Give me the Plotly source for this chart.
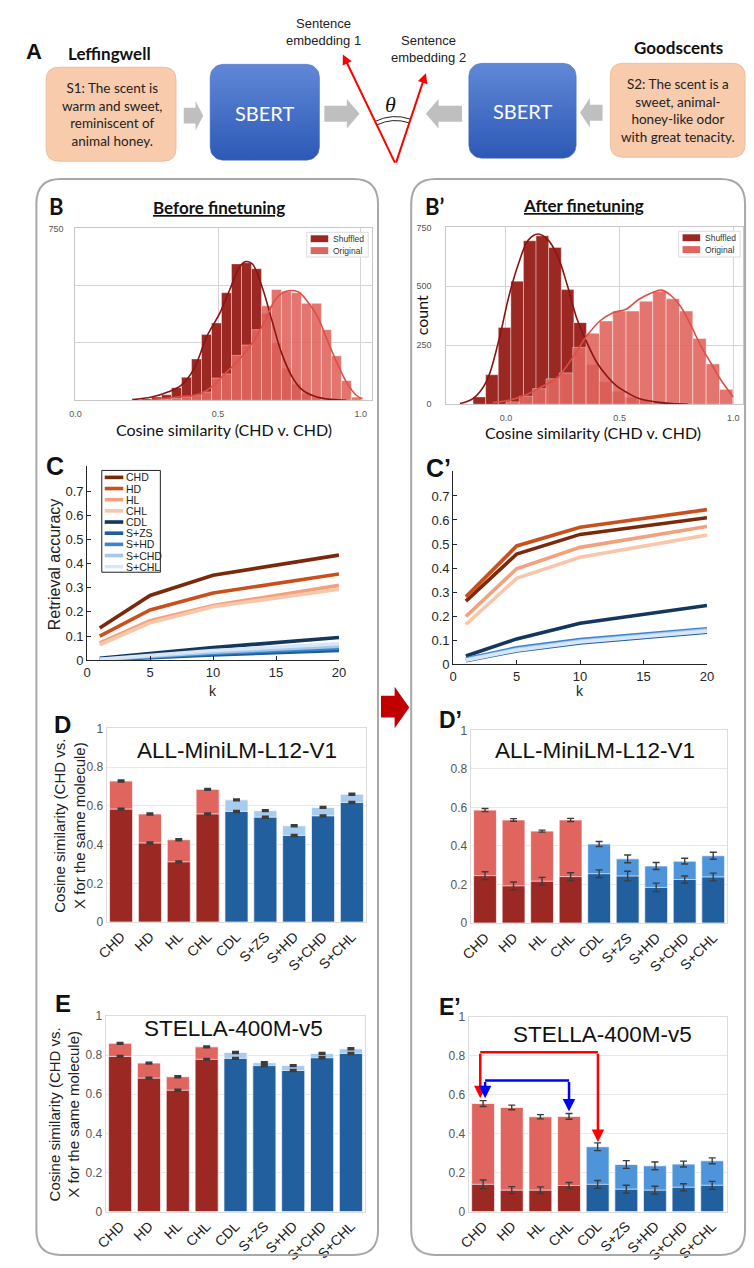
import math
import plotly.graph_objects as go

W, H = 754, 1268

# ---------------- data ----------------
# B: before finetuning histograms (bin centres, counts) and KDE curves
hb_shuf_x = [0.2145, 0.2495, 0.2845, 0.3195, 0.3545, 0.3895, 0.4245, 0.4595, 0.4945, 0.5295,
             0.5645, 0.5995, 0.6345, 0.6695, 0.7045, 0.7395, 0.7745, 0.8095, 0.8445, 0.8795]
hb_shuf_y = [2, 6, 14, 24, 55, 100, 180, 287, 337, 469, 595, 600, 574, 380, 250, 140, 70, 30, 12, 4]
hb_orig_x = [0.2845, 0.3195, 0.3545, 0.3895, 0.4245, 0.4595, 0.4945, 0.5295, 0.5645, 0.5995, 0.6345,
             0.6695, 0.7045, 0.7395, 0.7745, 0.8095, 0.8445, 0.8795, 0.9145, 0.9495, 0.9845]
hb_orig_y = [3, 5, 8, 14, 20, 36, 97, 115, 196, 241, 308, 412, 483, 476, 469, 423, 423, 308, 194, 86, 14]
kb_shuf_x = [0.199, 0.267, 0.324, 0.370, 0.415, 0.461, 0.506, 0.540, 0.575, 0.597, 0.620, 0.654,
             0.688, 0.722, 0.757, 0.791, 0.836, 0.893, 0.950]
kb_shuf_y = [3, 14, 36, 65, 136, 280, 380, 480, 580, 605, 595, 495, 351, 208, 108, 50, 19, 4, 0]
kb_orig_x = [0.267, 0.358, 0.438, 0.484, 0.529, 0.575, 0.620, 0.666, 0.700, 0.734, 0.780, 0.814,
             0.848, 0.882, 0.916, 0.950, 0.984, 1.006]
kb_orig_y = [3, 14, 29, 65, 122, 179, 251, 351, 437, 473, 473, 430, 366, 265, 165, 79, 22, 7]
hb_shuf_w = 0.035
hb_orig_w = 0.035

# B': after finetuning
hbp_shuf_x = [-0.1168, -0.0614, -0.0060, 0.0494, 0.1048, 0.1602, 0.2156, 0.2710, 0.3264, 0.3818,
              0.4372, 0.4926, 0.5480, 0.6034, 0.6588, 0.7142]
hbp_shuf_y = [31, 125, 325, 522, 693, 714, 665, 486, 346, 168, 95, 55, 30, 18, 10, 5]
hbp_orig_x = [0.0294, 0.0881, 0.1468, 0.2055, 0.2642, 0.3229, 0.3816, 0.4403, 0.4990, 0.5577,
              0.6164, 0.6751, 0.7338, 0.7925, 0.8512, 0.9099, 0.9686]
hbp_orig_y = [10, 34, 66, 108, 133, 241, 301, 353, 395, 395, 437, 479, 447, 395, 279, 171, 63]
kbp_shuf_x = [-0.202, -0.145, -0.087, -0.030, 0.013, 0.056, 0.099, 0.142, 0.185, 0.228, 0.271,
              0.313, 0.356, 0.399, 0.442, 0.485, 0.528, 0.585, 0.657, 0.728, 0.800]
kbp_shuf_y = [3, 24, 94, 276, 458, 598, 697, 722, 697, 627, 501, 360, 262, 178, 122, 79, 52, 24, 10, 3, 0]
kbp_orig_x = [-0.058, 0.013, 0.084, 0.156, 0.228, 0.299, 0.356, 0.413, 0.471, 0.528, 0.585, 0.642,
              0.685, 0.728, 0.771, 0.814, 0.857, 0.899, 0.942, 0.999]
kbp_orig_y = [7, 17, 38, 73, 115, 206, 290, 353, 388, 403, 445, 473, 484, 459, 410, 333, 248, 178, 108, 31]
hbp_shuf_w = 0.0554
hbp_orig_w = 0.0587

# C / C': retrieval accuracy vs k
k_values = [1, 5, 10, 20]
series_names = ["CHD", "HD", "HL", "CHL", "CDL", "S+ZS", "S+HD", "S+CHD", "S+CHL"]
acc_before = [
    [0.133, 0.268, 0.352, 0.435],
    [0.100, 0.208, 0.278, 0.357],
    [0.072, 0.163, 0.226, 0.310],
    [0.064, 0.155, 0.221, 0.294],
    [0.008, 0.028, 0.052, 0.094],
    [0.001, 0.010, 0.022, 0.040],
    [0.002, 0.014, 0.028, 0.050],
    [0.003, 0.017, 0.033, 0.058],
    [0.004, 0.020, 0.040, 0.068],
]
acc_after = [
    [0.262, 0.458, 0.540, 0.609],
    [0.280, 0.492, 0.570, 0.643],
    [0.198, 0.397, 0.486, 0.573],
    [0.165, 0.357, 0.445, 0.537],
    [0.034, 0.105, 0.170, 0.244],
    [0.014, 0.055, 0.088, 0.133],
    [0.022, 0.068, 0.102, 0.147],
    [0.018, 0.062, 0.096, 0.142],
    [0.016, 0.058, 0.092, 0.137],
]

# D, D', E, E': cosine similarity bars
categories = ["CHD", "HD", "HL", "CHL", "CDL", "S+ZS", "S+HD", "S+CHD", "S+CHL"]
d_orig = [0.728, 0.558, 0.425, 0.685, 0.631, 0.575, 0.497, 0.592, 0.660]
d_orig_err = [0.003] * 9
d_shuf = [0.583, 0.408, 0.311, 0.558, 0.571, 0.541, 0.447, 0.548, 0.617]
d_shuf_err = [0.003] * 9
dp_orig = [0.586, 0.535, 0.477, 0.535, 0.410, 0.333, 0.296, 0.321, 0.349]
dp_orig_err = [0.008, 0.007, 0.005, 0.008, 0.013, 0.020, 0.018, 0.015, 0.018]
dp_shuf = [0.246, 0.193, 0.217, 0.241, 0.256, 0.244, 0.185, 0.226, 0.239]
dp_shuf_err = [0.020, 0.020, 0.020, 0.020, 0.020, 0.025, 0.022, 0.018, 0.020]
e_orig = [0.860, 0.759, 0.689, 0.842, 0.813, 0.761, 0.746, 0.808, 0.832]
e_orig_err = [0.003] * 9
e_shuf = [0.793, 0.682, 0.620, 0.778, 0.783, 0.746, 0.721, 0.786, 0.808]
e_shuf_err = [0.003] * 9
ep_orig = [0.555, 0.535, 0.487, 0.489, 0.333, 0.242, 0.235, 0.244, 0.261]
ep_orig_err = [0.015, 0.012, 0.011, 0.015, 0.020, 0.020, 0.020, 0.015, 0.015]
ep_shuf = [0.140, 0.110, 0.110, 0.134, 0.140, 0.115, 0.110, 0.125, 0.135]
ep_shuf_err = [0.022, 0.018, 0.017, 0.015, 0.020, 0.020, 0.020, 0.018, 0.020]

# ---------------- style ----------------
series_colors = ["#7A2A0B", "#C9501C", "#F2A17C", "#F8C6A8", "#14375E",
                 "#1F5C9A", "#3A85CC", "#A5C8EC", "#D8E7F7"]
SHUF_RED = "#9C2824"
ORIG_RED = "#E0655F"
DARK_BLUE = "#215F9E"
PALE_BLUE = "#A8CCEF"
MID_BLUE = "#4D94DB"
SANS = "Liberation Sans, Arial, sans-serif"
LATO = "Lato, Liberation Sans, sans-serif"


def xd(x0, x1):
    return [x0 / W, x1 / W]


def yd(y0, y1):
    return [1 - y1 / H, 1 - y0 / H]


fig = go.Figure()
shapes = []
anns = []


def A(x, y, text, size, color="#111", family=SANS, xanchor="center", yanchor="middle", angle=0):
    anns.append(dict(x=x, y=y, xref="x9", yref="y9", text=text, showarrow=False,
                     font=dict(size=size, color=color, family=family),
                     xanchor=xanchor, yanchor=yanchor, textangle=angle))


def rrect_path(x0, y0, x1, y1, r):
    return (f"M{x0+r},{y0} L{x1-r},{y0} Q{x1},{y0} {x1},{y0+r} L{x1},{y1-r} Q{x1},{y1} {x1-r},{y1} "
            f"L{x0+r},{y1} Q{x0},{y1} {x0},{y1-r} L{x0},{y0+r} Q{x0},{y0} {x0+r},{y0} Z")


def rrect_pts(x0, y0, x1, y1, r, n=8):
    xs, ys = [], []
    for cx, cy, a0, a1 in [(x1 - r, y0 + r, -90, 0), (x1 - r, y1 - r, 0, 90),
                           (x0 + r, y1 - r, 90, 180), (x0 + r, y0 + r, 180, 270)]:
        for j in range(n + 1):
            a = math.radians(a0 + (a1 - a0) * j / n)
            xs.append(cx + r * math.cos(a))
            ys.append(cy + r * math.sin(a))
    xs.append(xs[0]); ys.append(ys[0])
    return xs, ys


def S(**kw):
    d = dict(xref="x9", yref="y9")
    d.update(kw)
    shapes.append(d)


# ---------------- histograms B, B' ----------------
def add_hist(ax, sx, sy, sw, ox, oy, ow, ksx, ksy, kox, koy):
    xa, ya = ("x", "y") if ax == 1 else (f"x{ax}", f"y{ax}")
    fig.add_trace(go.Bar(x=sx, y=sy, width=sw, marker=dict(color=SHUF_RED, line=dict(color="rgba(255,255,255,0.45)", width=0.8)),
                         xaxis=xa, yaxis=ya, showlegend=False, name="Shuffled"))
    fig.add_trace(go.Bar(x=ox, y=oy, width=ow, opacity=0.9,
                         marker=dict(color=ORIG_RED, line=dict(color="rgba(255,255,255,0.55)", width=0.8)),
                         xaxis=xa, yaxis=ya, showlegend=False, name="Original"))
    fig.add_trace(go.Scatter(x=ksx, y=ksy, mode="lines", line=dict(color="#8A1510", width=1.6, shape="spline"),
                             xaxis=xa, yaxis=ya, showlegend=False, hoverinfo="skip"))
    fig.add_trace(go.Scatter(x=kox, y=koy, mode="lines", line=dict(color="#E04E48", width=1.6, shape="spline"),
                             xaxis=xa, yaxis=ya, showlegend=False, hoverinfo="skip"))


add_hist(1, hb_shuf_x, hb_shuf_y, hb_shuf_w, hb_orig_x, hb_orig_y, hb_orig_w,
         kb_shuf_x, kb_shuf_y, kb_orig_x, kb_orig_y)
add_hist(2, hbp_shuf_x, hbp_shuf_y, hbp_shuf_w, hbp_orig_x, hbp_orig_y, hbp_orig_w,
         kbp_shuf_x, kbp_shuf_y, kbp_orig_x, kbp_orig_y)

hist_x_common = dict(showgrid=True, gridcolor="#d4d4d4", gridwidth=1, showline=True, mirror=True,
                     linecolor="#c8c8c8", linewidth=1.2, zeroline=False, ticks="",
                     tickvals=[0, 0.5, 1.0], ticktext=["0.0", "0.5", "1.0"], ticklabelstandoff=5,
                     tickfont=dict(size=9, color="#555", family=SANS), fixedrange=True)
hist_y_common = dict(showgrid=True, gridcolor="#d4d4d4", gridwidth=1, showline=True, mirror=True,
                     linecolor="#c8c8c8", linewidth=1.2, zeroline=False, ticks="", range=[0, 750],
                     tickvals=[0, 250, 500, 750], tickfont=dict(size=9, color="#555", family=SANS), fixedrange=True)

layout = dict(
    xaxis=dict(domain=xd(66, 370), range=[0.0, 1.04], anchor="y", **hist_x_common),
    yaxis=dict(domain=yd(224, 398), anchor="x", ticktext=["", "", "", "750"], ticklabelstandoff=9,
               **hist_y_common),
    xaxis2=dict(domain=xd(446, 750), range=[-0.262, 1.043], anchor="y2", **hist_x_common),
    yaxis2=dict(domain=yd(223, 402), anchor="x2", ticktext=["0", "250", "500", "750"], ticklabelstandoff=12,
                **hist_y_common),
)

# ---------------- C, C' lines ----------------
for ax, data, dom_x, dom_y in [(3, acc_before, (78, 336), (465, 661)), (4, acc_after, (453, 713), (470, 665))]:
    for name, col, vals in zip(series_names, series_colors, data):
        fig.add_trace(go.Scatter(x=k_values, y=vals, mode="lines", name=name,
                                 line=dict(color=col, width=3.6), xaxis=f"x{ax}", yaxis=f"y{ax}",
                                 showlegend=False))
    layout[f"xaxis{ax}"] = dict(domain=xd(*dom_x), range=[0, 20], anchor=f"y{ax}", tickvals=[0, 5, 10, 15, 20],
                                ticks="inside", ticklen=4, tickcolor="#262626", showline=True, linecolor="#262626",
                                linewidth=1, showgrid=False, zeroline=False,
                                tickfont=dict(size=13, color="#262626", family=SANS), fixedrange=True)
    layout[f"yaxis{ax}"] = dict(domain=yd(*dom_y), range=[0, 0.802], anchor=f"x{ax}",
                                tickvals=[0, 0.1, 0.2, 0.3, 0.4, 0.5, 0.6, 0.7],
                                ticktext=["0", "0.1", "0.2", "0.3", "0.4", "0.5", "0.6", "0.7"],
                                ticks="inside", ticklen=4, tickcolor="#262626", showline=True, linecolor="#262626",
                                linewidth=1, showgrid=False, zeroline=False,
                                tickfont=dict(size=13, color="#262626", family=SANS), fixedrange=True)

# ---------------- bar panels ----------------
red4 = 4
bar_panels = [
    (5, d_orig, d_orig_err, d_shuf, d_shuf_err, PALE_BLUE, (98, 364), (730, 926), 2.2, 3.5),
    (6, dp_orig, dp_orig_err, dp_shuf, dp_shuf_err, MID_BLUE, (471, 734), (732, 927), 1.4, 3.5),
    (7, e_orig, e_orig_err, e_shuf, e_shuf_err, PALE_BLUE, (97, 363), (1021, 1219), 2.2, 3.5),
    (8, ep_orig, ep_orig_err, ep_shuf, ep_shuf_err, MID_BLUE, (469, 733), (1022, 1219), 1.4, 3.5),
]
for ax, o, oe, s, se, light_blue, dom_x, dom_y, eth, ew in bar_panels:
    ocol = [ORIG_RED] * red4 + [light_blue] * (len(categories) - red4)
    scol = [SHUF_RED] * red4 + [DARK_BLUE] * (len(categories) - red4)
    fig.add_trace(go.Bar(x=categories, y=o, width=0.8, xaxis=f"x{ax}", yaxis=f"y{ax}", showlegend=False,
                         marker=dict(color=ocol, line=dict(color="rgba(255,255,255,0.7)", width=1)),
                         error_y=dict(type="data", array=oe, color="#3c3c3c", thickness=eth, width=ew)))
    fig.add_trace(go.Bar(x=categories, y=s, width=0.8, xaxis=f"x{ax}", yaxis=f"y{ax}", showlegend=False,
                         marker=dict(color=scol, line=dict(color="rgba(255,255,255,0.7)", width=1)),
                         error_y=dict(type="data", array=se, color="#3c3c3c", thickness=eth, width=ew)))
    layout[f"xaxis{ax}"] = dict(domain=xd(*dom_x), range=[-0.5, 8.5], anchor=f"y{ax}", type="category",
                                tickangle=-45, ticks="", showline=True, mirror=True, linecolor="#dcdcdc",
                                linewidth=1.2, showgrid=False, zeroline=False,
                                tickfont=dict(size=14, color="#222", family=SANS), fixedrange=True)
    layout[f"yaxis{ax}"] = dict(domain=yd(*dom_y), range=[0, 1], anchor=f"x{ax}",
                                tickvals=[0, 0.2, 0.4, 0.6, 0.8, 1.0],
                                ticktext=["0", "0.2", "0.4", "0.6", "0.8", "1"], ticks="",
                                showline=True, mirror=True, linecolor="#dcdcdc", linewidth=1.2,
                                showgrid=True, gridcolor="#e8e8e8", zeroline=False,
                                tickfont=dict(size=12, color="#555", family=SANS), fixedrange=True)

# pixel overlay axis for the illustration
layout["xaxis9"] = dict(domain=[0, 1], range=[0, W], anchor="y9", visible=False, fixedrange=True)
layout["yaxis9"] = dict(domain=[0, 1], range=[H, 0], anchor="x9", visible=False, fixedrange=True)

# SBERT boxes with gradient fill
for (x0, y0, x1, y1) in [(204, 58, 316, 155), (469, 57, 579, 153)]:
    bx, by = rrect_pts(x0, y0, x1, y1, 13)
    fig.add_trace(go.Scatter(x=bx, y=by, xaxis="x9", yaxis="y9", mode="lines", fill="toself",
                             line=dict(color="#3E69C2", width=0.5), showlegend=False, hoverinfo="skip",
                             fillgradient=dict(type="vertical", colorscale=[[0, "#2D59B6"], [1, "#6088D7"]])))

# ---------------- illustration (panel A) ----------------
for (x0, y0, x1, y1) in [(36, 61, 169, 156), (614, 57, 752, 152)]:
    S(type="path", path=rrect_path(x0, y0, x1, y1, 13), fillcolor="#F8CBAD", line=dict(color="#EDBE9E", width=1))

GREY = "#BFBFBF"
# right-pointing block arrows
for (x0, xh, x1, c) in [(177, 189, 197, 110), (321, 344, 357, 108)]:
    S(type="path", path=f"M{x0},{c-8} L{xh},{c-8} L{xh},{c-15} L{x1},{c} L{xh},{c+15} L{xh},{c+8} L{x0},{c+8} Z",
      fillcolor=GREY, line=dict(width=0))
# left-pointing block arrows
for (x0, xh, x1, c) in [(425, 438, 462, 108), (583, 593, 606, 107)]:
    S(type="path", path=f"M{x1},{c-8} L{xh},{c-8} L{xh},{c-15} L{x0},{c} L{xh},{c+15} L{xh},{c+8} L{x1},{c+8} Z",
      fillcolor=GREY, line=dict(width=0))

# embedding vectors
vx, vy = 394, 159
for tx, ty in [(340, 48), (425, 67)]:
    anns.append(dict(x=tx, y=ty, ax=vx, ay=vy, xref="x9", yref="y9", axref="x9", ayref="y9", text="",
                     showarrow=True, arrowhead=2, arrowsize=1, arrowwidth=2, arrowcolor="#FF0000"))
for r in (44, 48):
    lx, ly = vx - 0.4376 * r, vy - 0.8995 * r
    rx, ry = vx + 0.319 * r, vy - 0.9475 * r
    cx, cy = vx - 0.064 * r / 0.925, vy - 0.998 * r / 0.925
    S(type="path", path=f"M{lx},{ly} Q{cx},{cy} {rx},{ry}", line=dict(color="#222", width=1))
A(389, 99, "<i>θ</i>", 22, family="Liberation Serif, DejaVu Serif, serif")

A(320, 25, "Sentence<br>embedding 1", 13, color="#222")
A(428, 42, "Sentence<br>embedding 2", 13, color="#222")
A(24, 45, "<b>A</b>", 22)
A(101, 47, "<b>Leffingwell</b>", 17, family=LATO)
A(684, 41, "<b>Goodscents</b>", 17, family=LATO)
A(103, 109, "S1: The scent is<br>warm and sweet,<br>reminiscent of<br>animal honey.", 13.5, color="#222", family=LATO)
A(683, 105, "S2: The scent is a<br>sweet, animal-<br>honey-like odor<br>with great tenacity.", 13.5, color="#222", family=LATO)
A(260, 107, "SBERT", 20, color="white", family=LATO)
A(524, 105, "SBERT", 20, color="white", family=LATO)

# panel outlines
S(type="path", path=rrect_path(26, 174, 376, 1263, 25), line=dict(color="#A8A8A8", width=2), layer="below")
S(type="path", path=rrect_path(410, 174, 752, 1263, 25), line=dict(color="#A8A8A8", width=2), layer="below")
# red arrow between panels
S(type="path", path="M379,697 L393,697 L393,688 L408,709 L393,730 L393,719 L379,719 Z",
  fillcolor="#C00000", line=dict(width=0))

# headers
A(47, 202, "<b>B</b>", 22, family=LATO)
A(213, 203, "<b><span style='text-decoration:underline'>Before finetuning</span></b>", 17, family=LATO)
A(434, 202, "<b>B’</b>", 22, family=LATO)
A(586, 201, "<b><span style='text-decoration:underline'>After finetuning</span></b>", 17, family=LATO)

# histogram labels
A(218, 428, "Cosine similarity (CHD v. CHD)", 16, family=LATO)
A(596, 431, "Cosine similarity (CHD v. CHD)", 16, family=LATO)
A(420, 312, "count", 16, family=LATO, angle=-90)

# histogram legends (manual)
for (bx0, by0, bx1, by1) in [(303, 228, 366, 253), (684, 227, 747, 253)]:
    S(type="rect", x0=bx0, y0=by0, x1=bx1, y1=by1, fillcolor="rgba(255,255,255,0.85)",
      line=dict(color="#dddddd", width=1))
    for i, (lab, col) in enumerate([("Shuffled", SHUF_RED), ("Original", ORIG_RED)]):
        yy = by0 + 6.5 + 12 * i
        S(type="rect", x0=bx0 + 4, y0=yy - 3.5, x1=bx0 + 22, y1=yy + 3.5, fillcolor=col, line=dict(width=0))
        A(bx0 + 25, yy, lab, 8.5, color="#333", xanchor="left")

# C panel labels
A(45, 464, "<b>C</b>", 25)
A(438, 467, "<b>C’</b>", 25)
A(44, 564, "Retrieval accuracy", 16, color="#222", angle=-90)
A(207, 692, "k", 14, color="#222")
A(583, 692, "k", 14, color="#222")
S(type="rect", x0=93, y0=469, x1=153, y1=572, fillcolor="white", line=dict(color="#222", width=1))
for i, (name, col) in enumerate(zip(series_names, series_colors)):
    yy = 476 + 11.3 * i
    S(type="line", x0=96, x1=115, y0=yy, y1=yy, line=dict(color=col, width=3.6))
    A(116, yy, name, 10.5, color="#222", xanchor="left")

# bar panel labels
A(53, 726, "<b>D</b>", 24)
A(450, 722, "<b>D’</b>", 23)
A(53, 1008, "<b>E</b>", 24)
A(450, 1012, "<b>E’</b>", 23)
A(232, 752, "ALL-MiniLM-L12-V1", 22.5, color="#111")
A(598, 752, "ALL-MiniLM-L12-V1", 22.5, color="#111")
A(228, 1034, "STELLA-400M-v5", 22.5, color="#111")
A(606, 1040, "STELLA-400M-v5", 22.5, color="#111")
A(60, 829, "Cosine similarity (CHD vs.<br>X for the same molecule)", 15, color="#222", angle=-90)
A(55, 1121, "Cosine similarity (CHD vs.<br>X for the same molecule)", 15, color="#222", angle=-90)

# E' comparison brackets
for col, xl, xr, ytop, yl, yr in [("#FF0000", -0.10, 4.01, 0.819, 0.582, 0.357),
                                  ("#0000FF", 0.07, 3.0, 0.673, 0.582, 0.514)]:
    shapes.append(dict(type="line", xref="x8", yref="y8", x0=xl, x1=xr, y0=ytop, y1=ytop,
                       line=dict(color=col, width=2.5)))
    for xx, yy in [(xl, yl), (xr, yr)]:
        anns.append(dict(x=xx, y=yy, ax=xx, ay=ytop, xref="x8", yref="y8", axref="x8", ayref="y8", text="",
                         showarrow=True, arrowhead=2, arrowsize=1, arrowwidth=2.5, arrowcolor=col))

layout.update(dict(width=W, height=H, margin=dict(l=0, r=0, t=0, b=0), autosize=False,
                   paper_bgcolor="white", plot_bgcolor="rgba(0,0,0,0)", barmode="overlay",
                   shapes=shapes, annotations=anns, showlegend=False))
fig.update_layout(**layout)
fig.write_html("out.html", config={"displayModeBar": False},
               post_script="document.body.style.margin='0';document.body.style.padding='0';"
                           "document.documentElement.style.overflow='hidden';")
